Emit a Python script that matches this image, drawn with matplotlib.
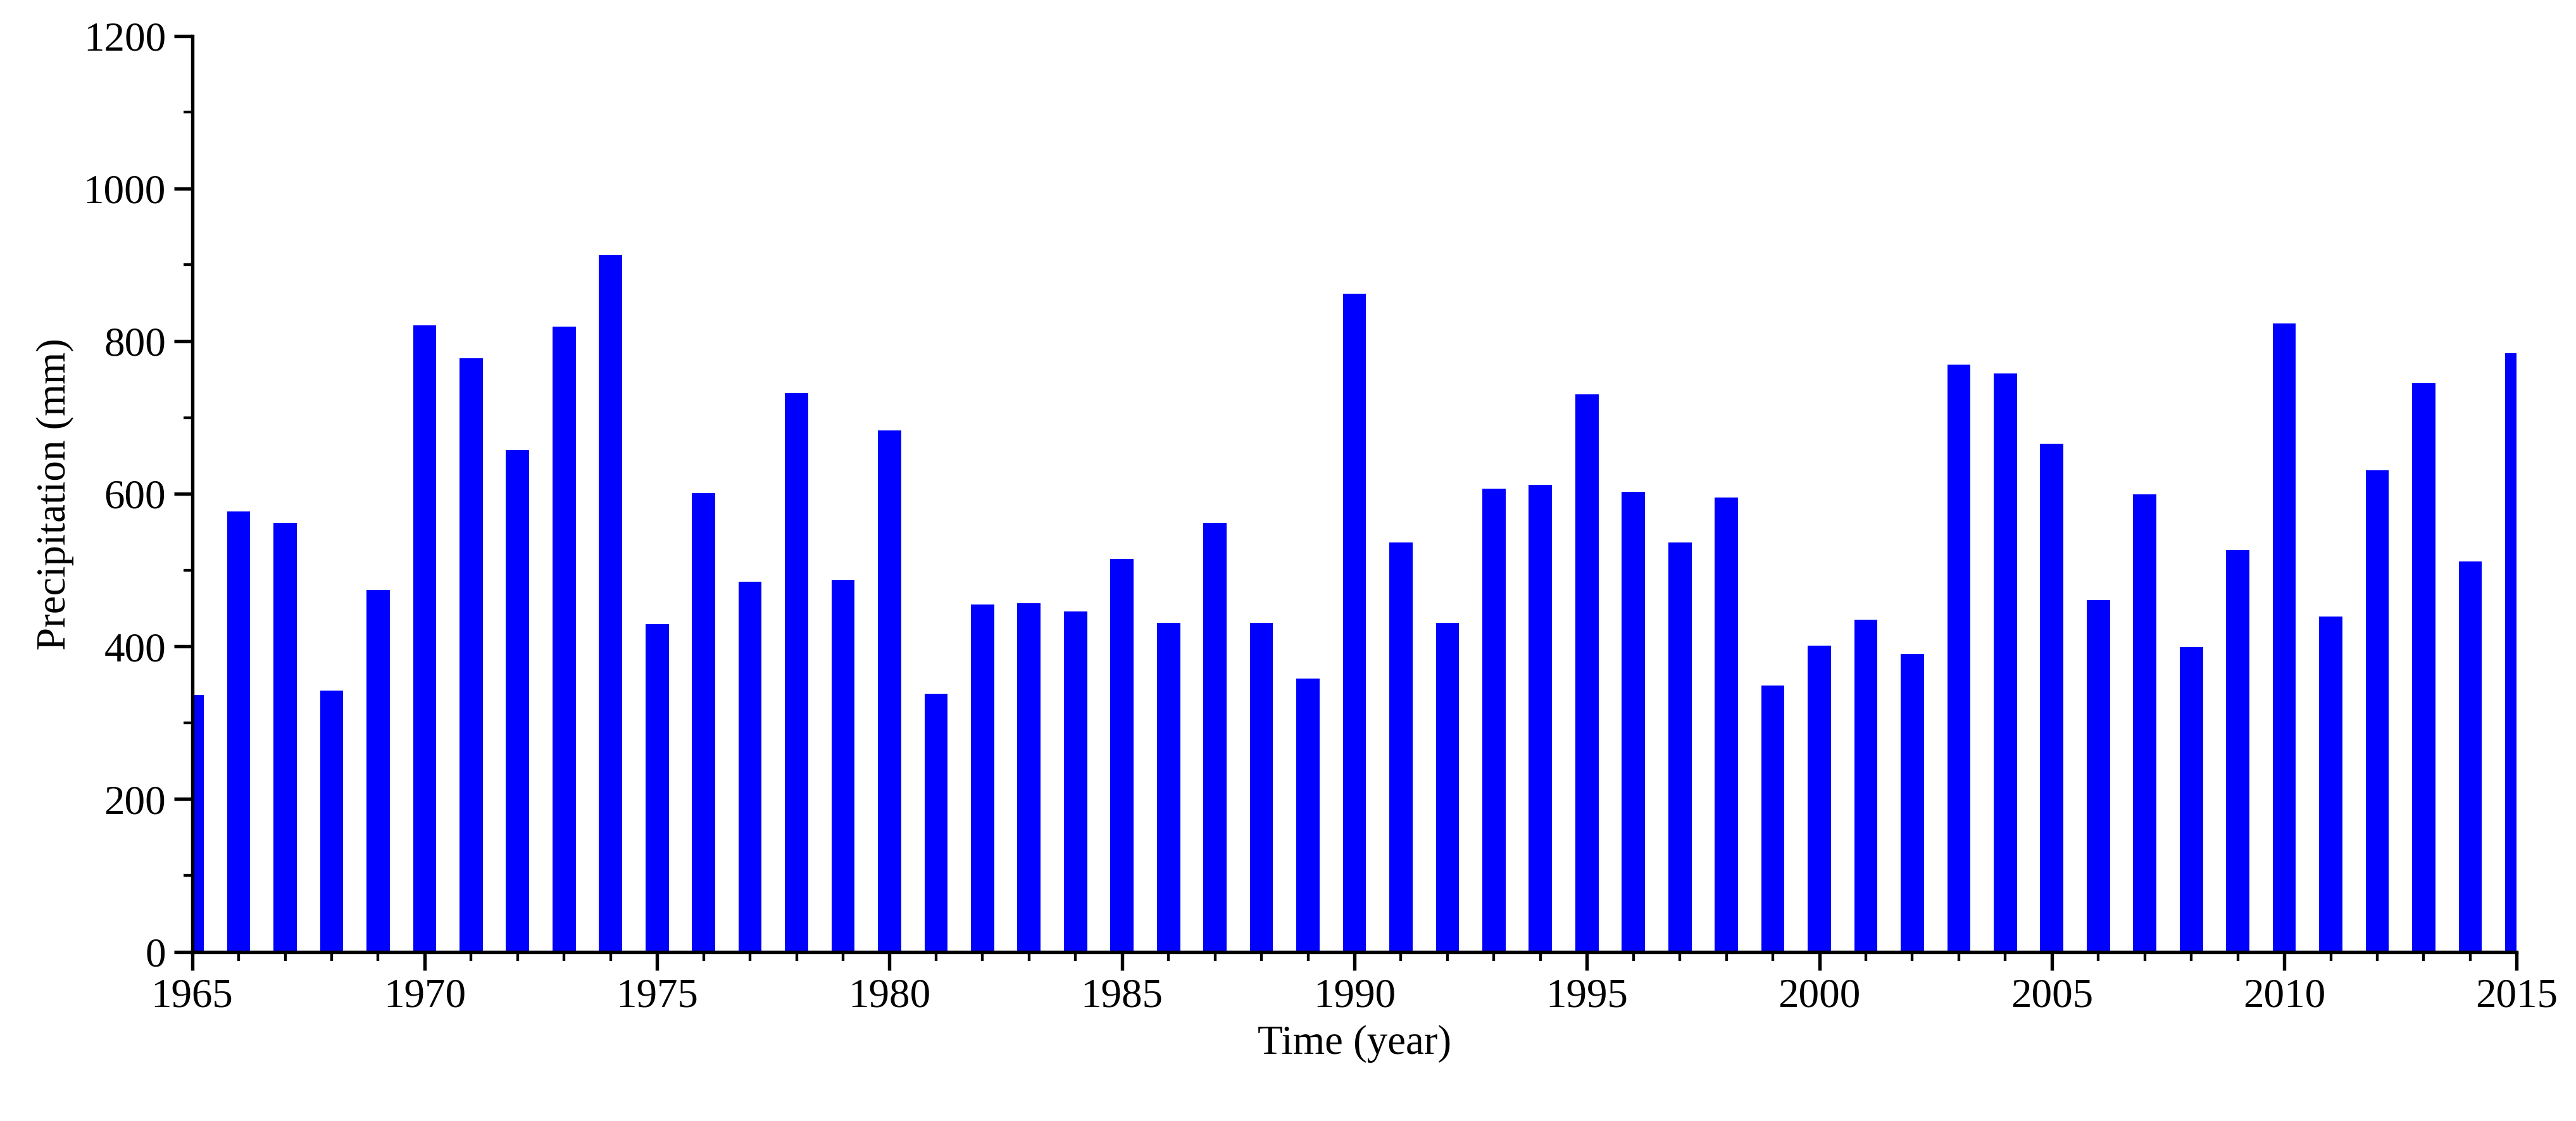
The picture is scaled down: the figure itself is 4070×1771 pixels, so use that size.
import matplotlib.pyplot as plt
import numpy as np

plt.rcParams["font.family"] = ["Liberation Serif", "DejaVu Serif"]

years = np.arange(1965, 2016)
precip = [336, 577, 562, 342, 474, 821, 778, 657, 819, 913,
          429, 601, 485, 732, 487, 683, 338, 455, 457, 446,
          515, 431, 562, 431, 358, 862, 536, 431, 607, 612,
          730, 603, 536, 595, 349, 401, 435, 390, 769, 758,
          666, 461, 599, 399, 526, 823, 439, 631, 745, 511, 784]

fig = plt.figure(figsize=(4070 / 260, 1771 / 260), dpi=260)
ax = fig.add_axes([0.0746, 0.151, 0.9024, 0.817])
ax.bar(years, precip, width=0.5, color="#0000ff")

ax.set_xlim(1965, 2015)
ax.set_ylim(0, 1200)
ax.set_xticks(np.arange(1965, 2016, 5))
ax.set_xticks(years, minor=True)
ax.set_yticks(np.arange(0, 1201, 200))
ax.set_yticks(np.arange(0, 1201, 100), minor=True)
ax.spines["top"].set_visible(False)
ax.spines["right"].set_visible(False)
for s in ("left", "bottom"):
    ax.spines[s].set_linewidth(1.5)
ax.tick_params(axis="both", which="major", labelsize=18, length=8, width=1.5, direction="out")
ax.tick_params(axis="both", which="minor", length=4, width=1.2, direction="out")
ax.set_xlabel("Time (year)", fontsize=18)
ax.set_ylabel("Precipitation (mm)", fontsize=18)

fig.savefig("out.png", dpi=260)
